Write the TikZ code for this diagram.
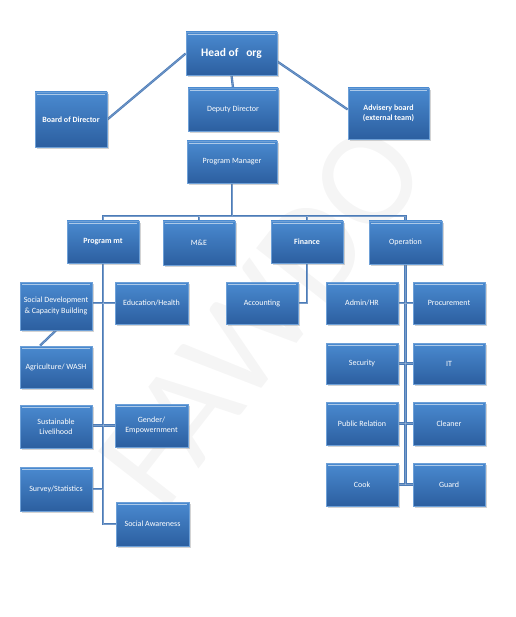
\documentclass[tikz,border=0pt]{standalone}
\usepackage{fontspec}
\setmainfont{Carlito}
\usetikzlibrary{shadows,backgrounds,calc}
\definecolor{boxtop}{RGB}{74,138,208}
\definecolor{boxbot}{RGB}{44,95,160}
\definecolor{boxedge}{RGB}{110,160,215}
\definecolor{conncol}{RGB}{76,124,184}
\tikzset{
  orgbox/.style={rectangle, minimum width=72pt, minimum height=43pt, inner sep=1pt,
    top color=boxtop, bottom color=boxbot, draw=boxedge, line width=0.6pt,
    text=white, font=\fontsize{8}{10.5}\selectfont, align=center,
    drop shadow={shadow xshift=1.6pt, shadow yshift=-1.6pt, opacity=0.35, fill=gray},
    path picture={\draw[white, opacity=0.55, line width=0.9pt]
      ($(path picture bounding box.north west)+(2,2.5)$) --
      ($(path picture bounding box.north east)+(-2,2.5)$);}},
  boldbox/.style={orgbox, font=\bfseries\fontsize{8}{10.5}\selectfont},
  conn/.style={draw=conncol, line width=2.3pt},
  connhi/.style={draw=white, opacity=0.25, line width=0.6pt}
}
\begin{document}
\begin{tikzpicture}[x=1pt,y=-1pt]
\useasboundingbox (0,0) rectangle (515,617);
% nodes
\node[orgbox, minimum width=91pt, font=\bfseries\fontsize{11.5}{13}\selectfont] (head) at (231.5,53.5) {Head of~~~org};
\node[boldbox, minimum height=55pt] (board) at (71,119.5) {Board of Director};
\node[orgbox, minimum width=90pt] (deputy) at (233,109.5) {Deputy Director};
\node[boldbox, minimum width=81pt, minimum height=51pt] (advisory) at (388.5,113.5) {Advisery board\\(external team)};
\node[orgbox, minimum width=90pt, minimum height=42pt] (pm) at (232,162) {Program Manager};

\node[boldbox, minimum height=42pt] (progmt) at (103,242) {Program mt};
\node[orgbox, minimum height=44pt] (me) at (199,243) {M\&E};
\node[boldbox, minimum height=42pt] (finance) at (307,242) {Finance};
\node[orgbox, minimum width=73pt] (operation) at (405.5,242.5) {Operation};

\node[orgbox, minimum height=48pt] (socdev) at (56,306) {Social Development\\\& Capacity Building};
\node[orgbox, minimum width=73pt, minimum height=42pt] (edu) at (151.5,303) {Education/Health};
\node[orgbox, minimum height=42pt] (acc) at (262,303) {Accounting};
\node[orgbox, minimum height=42pt] (admin) at (362,303) {Admin/HR};
\node[orgbox, minimum height=42pt] (proc) at (449,303) {Procurement};

\node[orgbox, minimum height=42pt] (agri) at (56,367) {Agriculture/ WASH};
\node[orgbox] (sust) at (56,426.5) {Sustainable\\Livelihood};
\node[orgbox, minimum width=73pt] (gender) at (151.5,425.5) {Gender/\\Empowernment};
\node[orgbox, minimum height=44pt] (survey) at (56,489) {Survey/Statistics};
\node[orgbox, minimum width=73pt, minimum height=44pt] (socaw) at (152.5,524) {Social Awareness};

\node[orgbox, minimum height=41pt] (security) at (362,363.5) {Security};
\node[orgbox, minimum height=41pt] (it) at (449,363.5) {IT};
\node[orgbox] (pr) at (362,423.5) {Public Relation};
\node[orgbox] (cleaner) at (449,423.5) {Cleaner};
\node[orgbox] (cook) at (362,484.5) {Cook};
\node[orgbox] (guard) at (449,484.5) {Guard};

\coordinate (bus) at (232,216);

\begin{pgfonlayer}{background}
\node[rotate=52, text=black!4, font=\fontsize{140}{140}\selectfont] (wm) at (262,315) {FAWDO};
\foreach \s in {conn,connhi}{
  \draw[\s] (board.east) -- (head.west);
  \draw[\s] ($(head.east)+(0,8)$) -- ($(advisory.west)+(0,-4)$);
  \draw[\s] (head.south) -- (deputy.north);
  \draw[\s] (pm.south) -- (bus);
  \draw[\s] (progmt.north) -- (progmt.north |- bus) -- (operation.north |- bus) -- (operation.north);
  \draw[\s] (me.north) -- (me.north |- bus);
  \draw[\s] (finance.north) -- (finance.north |- bus);
  \draw[\s] (finance.south) -- (finance.south |- acc.east) -- (acc.east);
  \draw[\s] (progmt.south) -- (progmt.south |- socaw.west) -- (socaw.west);
  \draw[\s] (socdev.east |- edu.west) -- (edu.west);
  \draw[\s] (sust.east |- gender.west) -- (gender.west);
  \draw[\s] (survey.east) -- (progmt.south |- survey.east);
  \draw[\s] (socdev.south) -- ($(agri.north)+(-16,0)$);
  \draw[\s] (operation.south) -- (operation.south |- cook.east);
  \draw[\s] (admin.east) -- (proc.west);
  \draw[\s] (security.east) -- (it.west);
  \draw[\s] (pr.east) -- (cleaner.west);
  \draw[\s] (cook.east) -- (guard.west);
}
\end{pgfonlayer}
\end{tikzpicture}
\end{document}
